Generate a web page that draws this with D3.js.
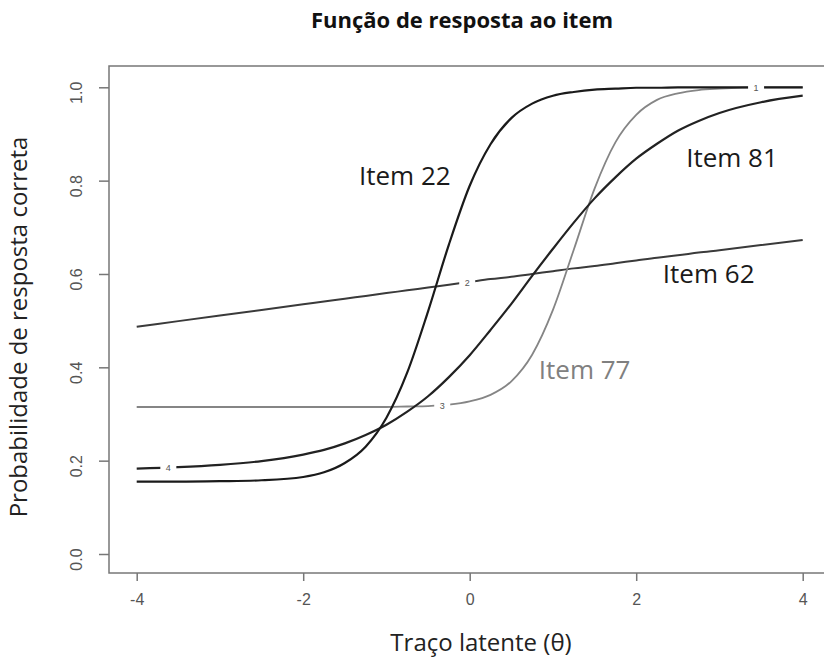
<!DOCTYPE html>
<html>
<head>
<meta charset="utf-8">
<script src="https://cdn.jsdelivr.net/npm/d3@7"></script>
<style>
  body { margin: 0; background: #fff; }
  svg { display: block; }
</style>
</head>
<body>
<svg id="chart" width="824" height="659"></svg>
<script>
// theta grid (same for every item)
var theta = [-4, -3.5, -3, -2.5, -2, -1.75, -1.5, -1.25, -1, -0.75, -0.5, -0.25, 0,
             0.25, 0.5, 0.75, 1, 1.25, 1.5, 1.75, 2, 2.25, 2.5, 2.75, 3, 3.5, 4];

var item22 = [0.155, 0.155, 0.156, 0.158, 0.165, 0.175, 0.195, 0.230, 0.292, 0.389, 0.520, 0.663, 0.789,
              0.878, 0.934, 0.965, 0.982, 0.990, 0.995, 0.997, 0.999, 0.999, 1.0, 1.0, 1.0, 1.0, 1.0];
var item81 = [0.183, 0.186, 0.191, 0.199, 0.213, 0.223, 0.237, 0.255, 0.277, 0.305, 0.338, 0.379, 0.426,
              0.480, 0.536, 0.596, 0.654, 0.710, 0.762, 0.807, 0.847, 0.879, 0.907, 0.928, 0.945, 0.968, 0.982];
var item62 = [0.487, 0.499, 0.511, 0.523, 0.535, 0.541, 0.547, 0.553, 0.559, 0.565, 0.571, 0.577, 0.583,
              0.589, 0.594, 0.600, 0.606, 0.612, 0.617, 0.623, 0.629, 0.635, 0.640, 0.646, 0.651, 0.662, 0.673];
var item77 = [0.315, 0.315, 0.315, 0.315, 0.315, 0.315, 0.315, 0.315, 0.315, 0.316, 0.317, 0.320, 0.327,
              0.341, 0.370, 0.427, 0.523, 0.652, 0.783, 0.882, 0.941, 0.973, 0.987, 0.994, 0.997, 1.0, 1.0];

var xTicks = [-4, -2, 0, 2, 4];
var yTicks = [0, 0.2, 0.4, 0.6, 0.8, 1.0];

// curve number labels (R style) and the big item labels
var curveTags = [
    {name: "1", values: item22, at: 3.44},
    {name: "2", values: item62, at: -0.03},
    {name: "3", values: item77, at: -0.33},
    {name: "4", values: item81, at: -3.62}
];
var itemNames = ["Item 22", "Item 81", "Item 62", "Item 77"];
var itemNamePos = [[-1.33, 0.79], [2.60, 0.83], [2.32, 0.58], [0.83, 0.375]];

var svg = d3.select("#chart"),
    BOX = {left: 109, top: 66, bottom: 573, right: 830},
    xScale = d3.scaleLinear().domain([-4, 4]).range([136.7, 802.7]),
    yScale = d3.scaleLinear().domain([0, 1]).range([554, 87.3]);

var sansBody = "'Open Sans', 'DejaVu Sans', sans-serif";
var rFont = "'Liberation Sans', Arial, sans-serif";

svg.append("text")
    .attr("x", 462)
    .attr("y", 28)
    .attr("text-anchor", "middle")
    .style("font-family", sansBody)
    .style("font-weight", "bold")
    .style("font-size", "22px")
    .style("fill", "#111")
    .text("Função de resposta ao item");

// plot box
svg.append("rect")
    .attr("x", BOX.left)
    .attr("y", BOX.top)
    .attr("width", BOX.right - BOX.left)
    .attr("height", BOX.bottom - BOX.top)
    .attr("fill", "none")
    .attr("stroke", "#777")
    .attr("stroke-width", 1.5);

var xAxis = d3.axisBottom(xScale).tickValues(xTicks).tickSize(8).tickPadding(13)
    .tickFormat(function (d) { return String(d); });
var gx = svg.append("g")
    .attr("class", "x axis")
    .attr("transform", "translate(0," + BOX.bottom + ")")
    .call(xAxis);

var yAxis = d3.axisLeft(yScale).tickValues(yTicks).tickSize(10).tickFormat(d3.format(".1f"));
var gy = svg.append("g")
    .attr("class", "y axis")
    .attr("transform", "translate(" + BOX.left + ",0)")
    .call(yAxis);

gx.select(".domain").remove();
gy.select(".domain").remove();
svg.selectAll(".axis line").attr("stroke", "#777").attr("stroke-width", 1.5);
gx.selectAll("text")
    .style("font-family", rFont)
    .style("font-size", "16px")
    .style("fill", "#555");
gy.selectAll(".tick text")
    .attr("x", null)
    .attr("dy", null)
    .attr("y", 0)
    .attr("text-anchor", "middle")
    .attr("transform", "translate(-27,5) rotate(-90)")
    .style("font-family", rFont)
    .style("font-size", "16px")
    .style("fill", "#555");

// axis titles
svg.append("text")
    .attr("x", 481)
    .attr("y", 651)
    .attr("text-anchor", "middle")
    .style("font-family", sansBody)
    .style("font-size", "24px")
    .style("fill", "#222")
    .text("Traço latente (θ)");

svg.append("text")
    .attr("transform", "translate(27,327) rotate(-90)")
    .attr("text-anchor", "middle")
    .style("font-family", sansBody)
    .style("font-size", "24px")
    .style("fill", "#222")
    .text("Probabilidade de resposta correta");

// curves
var lineGen = d3.line()
    .x(function (d) { return xScale(d[0]); })
    .y(function (d) { return yScale(d[1]); })
    .curve(d3.curveMonotoneX);

var series = [
    {values: item62, color: "#3a3a3a", width: 2},
    {values: item77, color: "#858585", width: 1.8},
    {values: item81, color: "#222", width: 2.2},
    {values: item22, color: "#1a1a1a", width: 2.2}
];

series.forEach(function (s) {
    svg.append("path")
        .attr("d", lineGen(d3.zip(theta, s.values)))
        .attr("stroke", s.color)
        .attr("stroke-width", s.width)
        .attr("fill", "none");
});

// small curve numbers sit in a gap of the line
curveTags.forEach(function (t) {
    var yv = d3.scaleLinear().domain(theta).range(t.values)(t.at);
    var cx = xScale(t.at), cy = yScale(yv);
    svg.append("rect")
        .attr("x", cx - 8)
        .attr("y", cy - 5)
        .attr("width", 16)
        .attr("height", 10)
        .attr("fill", "#fff");
    svg.append("text")
        .attr("x", cx)
        .attr("y", cy + 3.5)
        .attr("text-anchor", "middle")
        .style("font-family", rFont)
        .style("font-size", "9px")
        .style("fill", "#555")
        .text(t.name);
});

svg.selectAll("text.item")
    .data(itemNames)
    .enter().append("text")
    .attr("class", "item")
    .attr("x", function (d, i) { return xScale(itemNamePos[i][0]); })
    .attr("y", function (d, i) { return yScale(itemNamePos[i][1]); })
    .style("font-family", sansBody)
    .style("font-size", "26px")
    .style("fill", function (d) { return d === "Item 77" ? "#808080" : "#1a1a1a"; })
    .text(function (d) { return d; });
</script>
</body>
</html>
